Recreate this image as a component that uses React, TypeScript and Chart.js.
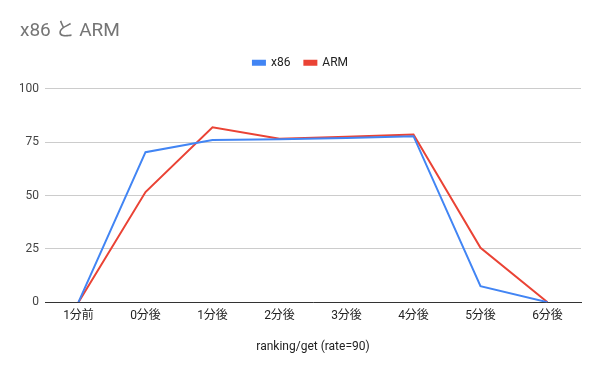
import React, { useEffect, useRef } from "react";
import { Chart, registerables } from "chart.js";

Chart.register(...registerables);

const categories = ["1分前", "0分後", "1分後", "2分後", "3分後", "4分後", "5分後", "6分後"];
const x86Values = [0, 70.3, 76, 76.4, 77, 77.8, 7.5, 0];
const armValues = [0, 51.6, 82, 76.6, 77.5, 78.6, 25.5, 0];
const yTicks = [0, 25, 50, 75, 100];

const FONT = "Roboto, 'Noto Sans CJK JP', sans-serif";

const legendSpacer = {
  id: "legendSpacer",
  beforeInit(chart: any) {
    const legend = chart.legend;
    if (!legend) return;
    const origFit = legend.fit;
    legend.fit = function () {
      origFit.call(this);
      this.height += 10;
    };
  },
};

export default function App() {
  const ref = useRef<HTMLCanvasElement | null>(null);

  useEffect(() => {
    document.body.style.margin = "0";
    const canvas = ref.current;
    if (!canvas) return;
    const chart = new Chart(canvas, {
      type: "line",
      data: {
        labels: categories,
        datasets: [
          {
            label: "x86",
            data: x86Values,
            borderColor: "#4285F4",
            backgroundColor: "#4285F4",
            borderWidth: 2,
            pointRadius: 0,
            tension: 0,
          },
          {
            label: "ARM",
            data: armValues,
            borderColor: "#EA4335",
            backgroundColor: "#EA4335",
            borderWidth: 2,
            pointRadius: 0,
            tension: 0,
          },
        ],
      },
      plugins: [legendSpacer],
      options: {
        responsive: false,
        animation: false,
        layout: { padding: { left: 20, right: 19, top: 0, bottom: 17 } },
        plugins: {
          title: {
            display: true,
            text: "x86 と ARM",
            align: "start",
            color: "#757575",
            font: { family: FONT, size: 19, weight: "normal" },
            padding: { top: 20, bottom: 0 },
          },
          legend: {
            display: true,
            position: "top",
            align: "center",
            labels: {
              boxWidth: 12,
              boxHeight: 4,
              color: "#222222",
              font: { family: FONT, size: 12 },
              padding: 14,
            },
          },
          tooltip: { enabled: false },
        },
        scales: {
          x: {
            offset: true,
            grid: { display: false, drawTicks: false },
            border: { display: true, color: "#333333", width: 1 },
            ticks: { color: "#222222", font: { family: FONT, size: 12 }, padding: 7, maxRotation: 0 },
            title: {
              display: true,
              text: "ranking/get (rate=90)",
              color: "#222222",
              font: { family: FONT, size: 12 },
              padding: { top: 9, bottom: 0 },
            },
          },
          y: {
            min: 0,
            max: 100,
            afterBuildTicks: (s: any) => {
              s.ticks = yTicks.map((v) => ({ value: v }));
            },
            afterFit: (s: any) => {
              s.width = 25;
            },
            grid: { color: "#cccccc", drawTicks: false },
            border: { display: false },
            ticks: { color: "#444444", font: { family: FONT, size: 12 }, padding: 6 },
          },
        },
      },
    });
    return () => chart.destroy();
  }, []);

  return (
    <div style={{ position: "absolute", left: 0, top: 0, width: 600, height: 371, background: "#fff" }}>
      <canvas ref={ref} width={600} height={371} style={{ width: 600, height: 371, display: "block" }} />
    </div>
  );
}
